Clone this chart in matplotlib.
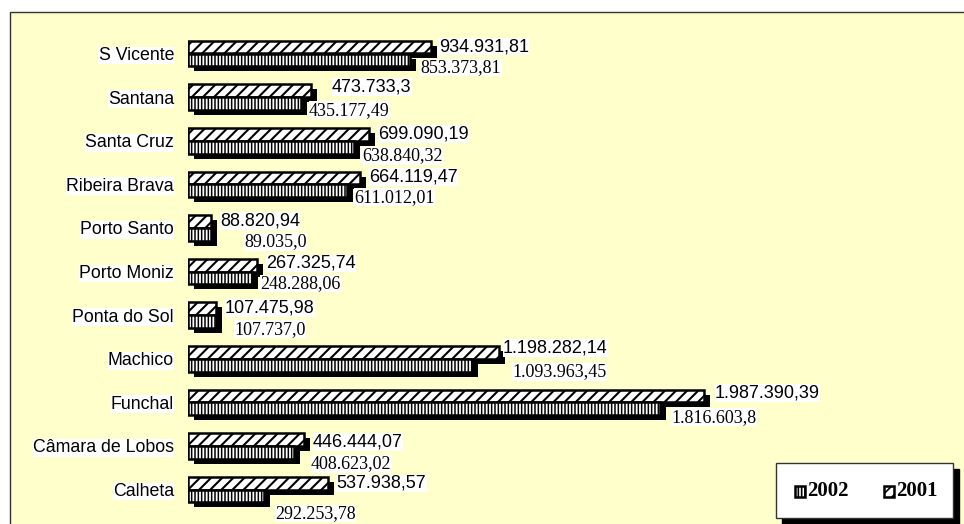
import numpy as np
import matplotlib
matplotlib.use('Agg')
import matplotlib.pyplot as plt
from matplotlib.patches import Rectangle
from matplotlib.transforms import offset_copy

municipios = ['S Vicente', 'Santana', 'Santa Cruz', 'Ribeira Brava', 'Porto Santo',
              'Porto Moniz', 'Ponta do Sol', 'Machico', 'Funchal',
              'Câmara de Lobos', 'Calheta']
v2001 = [934931.81, 473733.30, 699090.19, 664119.47, 88820.94, 267325.74,
         107475.98, 1198282.14, 1987390.39, 446444.07, 537938.57]
v2002 = [853373.81, 435177.49, 638840.32, 611012.01, 89035.00, 248288.06,
         107737.00, 1093963.45, 1816603.80, 408623.02, 292253.78]

# label nudges in pixels (right, down) from the end of each bar / pair centre
off2001 = [(8, -7), (21, -10), (9, -7), (9, -7), (9, -7), (9, -8),
           (9, -7), (4, -11), (11, -9), (9, -4), (9, -6)]
off2002 = [(11, 14), (8, 13), (8, 15), (8, 13), (33, 14), (8, 12),
           (18, 14), (40, 13), (12, 15), (17, 18), (11, 24)]


def fmt(v):
    s = f"{v:,.2f}"
    if s.endswith('0'):
        s = s[:-1]
    return s.replace(',', ' ').replace('.', ',').replace(' ', '.')


def hatch_lw(patches, lw):
    for p in patches:
        if hasattr(p, 'set_hatch_linewidth'):
            p.set_hatch_linewidth(lw)


plt.rcParams['hatch.linewidth'] = 1.2
W, H = 964, 524
fig = plt.figure(figsize=(W / 100, H / 100), dpi=100)
fig.patch.set_facecolor('white')

# pale yellow plot area
fig.patches.append(Rectangle((10 / W, -0.05), 1.0, (H - 12) / H + 0.05,
                             transform=fig.transFigure, facecolor='#FFFFCC',
                             edgecolor='#333333', lw=1.0, zorder=-1))

ax = fig.add_axes([188 / W, 0, (W - 188) / W, 1])
ax.patch.set_visible(False)

k = 2.596e-4   # pixels per unit
step = 43.6    # pixels between categories
y = np.arange(len(municipios))
h = 12.8 / step

shadow = offset_copy(ax.transData, fig=fig, x=6, y=-5, units='dots')
ax.barh(y - h / 2, v2001, height=h, color='black', transform=shadow, zorder=1)
ax.barh(y + h / 2, v2002, height=h, color='black', transform=shadow, zorder=1)
b01 = ax.barh(y - h / 2, v2001, height=h, facecolor='white', edgecolor='black',
              hatch='///', lw=1.8, zorder=2)
b02 = ax.barh(y + h / 2, v2002, height=h, facecolor='white', edgecolor='black',
              hatch='|||||', lw=1.8, zorder=2)
hatch_lw(b01, 1.5)
hatch_lw(b02, 1.1)

for i in range(len(municipios)):
    dx, dy = off2001[i]
    ax.annotate(fmt(v2001[i]), xy=(v2001[i], y[i]), xytext=(dx, -dy),
                textcoords='offset pixels', ha='left', va='center',
                fontsize=13, family='Liberation Sans', zorder=3,
                bbox=dict(facecolor='white', edgecolor='none', pad=0.3))
    dx, dy = off2002[i]
    ax.annotate(fmt(v2002[i]), xy=(v2002[i], y[i]), xytext=(dx, -dy),
                textcoords='offset pixels', ha='left', va='center',
                fontsize=13, family='Liberation Serif', zorder=3,
                bbox=dict(facecolor='white', edgecolor='none', pad=0.3))

ax.set_xlim(0, (W - 188) / k)
ax.set_ylim((H - 53.5) / step, -53.5 / step)
ax.set_xticks([])
ax.set_yticks(y, municipios)
for lab in ax.get_yticklabels():
    lab.set_family('Liberation Sans')
    lab.set_fontsize(12.8)
    lab.set_bbox(dict(facecolor='white', edgecolor='none', pad=0.3))
ax.tick_params(axis='y', length=0, pad=10)
for s in ax.spines.values():
    s.set_visible(False)


# legend box, drawn by hand to get the square black shadow
def fx(px):
    return px / W


def fy(py):
    return (H - py) / H


fig.patches.append(Rectangle((fx(782), fy(524)), 177 / W, 55 / H,
                             transform=fig.transFigure, color='black', zorder=4))
fig.patches.append(Rectangle((fx(776), fy(518)), 177 / W, 55 / H,
                             transform=fig.transFigure, facecolor='white',
                             edgecolor='#333333', lw=1.0, zorder=5))
for x0, hatch, txt in [(795, '|||||', '2002'), (884, '///', '2001')]:
    fig.patches.append(Rectangle((fx(x0), fy(497)), 10 / W, 11 / H,
                                 transform=fig.transFigure, facecolor='white',
                                 edgecolor='black', hatch=hatch, lw=1.8, zorder=6))
    fig.text(fx(x0 + 12), fy(491), txt, ha='left', va='center', fontsize=15,
             fontweight='bold', family='Liberation Serif', zorder=6)

fig.savefig('out.png', dpi=100)
